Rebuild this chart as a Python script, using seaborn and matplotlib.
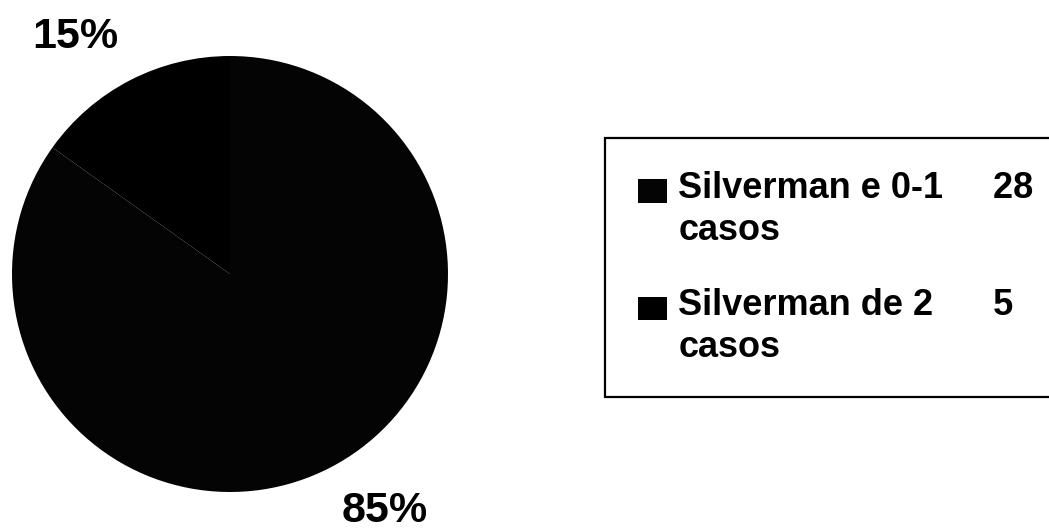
import matplotlib
matplotlib.use("Agg")
import matplotlib.pyplot as plt
import matplotlib.patches as mpatches
from matplotlib.legend_handler import HandlerPatch
import seaborn as sns

# Grupos e número de casos
categories = ["Silverman e 0-1", "Silverman de 2"]
cases = [28, 5]
colors = ["#040404", "#000000"]

sns.set_theme(style="white")
plt.rcParams["font.family"] = ["Liberation Sans", "DejaVu Sans"]

W, H = 1049, 532
fig = plt.figure(figsize=(W / 100, H / 100), dpi=100)
fig.patch.set_facecolor("white")

# Pie occupies a square region on the left
cx, cy, r = 230, 274, 218
ax = fig.add_axes([(cx - r) / W, (H - cy - r) / H, 2 * r / W, 2 * r / H])

total = sum(cases)
pct_labels = [f"{v / total * 100:.0f}%" for v in cases]

wedges, texts = ax.pie(
    cases,
    colors=colors,
    labels=pct_labels,
    labeldistance=1.12,
    startangle=90,
    counterclock=False,
    wedgeprops=dict(linewidth=0),
    textprops=dict(fontsize=31, fontweight="bold", color="black"),
)
ax.set_xlim(-1, 1)
ax.set_ylim(-1, 1)
for t in texts:
    t.set_va("bottom" if t.get_position()[1] > 0 else "top")

# Legend with two-line labels and counts aligned in a column
LEGEND_FS = 26
LINE_SPACING = 1.26
HANDLE_LIFT = 13.5  # points: moves the swatch up beside the first line


def first_line_patch(legend, orig_handle, xdescent, ydescent, width, height, fontsize):
    return mpatches.Rectangle((-xdescent, -ydescent + HANDLE_LIFT), width, height)


gaps = [5, 6]
legend_labels = [
    f"{cat}{' ' * g}{n}\ncasos" for cat, g, n in zip(categories, gaps, cases)
]

leg = fig.legend(
    wedges,
    legend_labels,
    loc="upper left",
    bbox_to_anchor=(605 / W, 1 - 138 / H),
    borderaxespad=0,
    frameon=True,
    fancybox=False,
    edgecolor="black",
    framealpha=1,
    borderpad=0.9,
    handlelength=0.83,
    handleheight=0.62,
    handletextpad=0.3,
    labelspacing=1.12,
    prop=dict(size=LEGEND_FS, weight="bold"),
    handler_map={mpatches.Wedge: HandlerPatch(patch_func=first_line_patch)},
)
leg.get_frame().set_linewidth(1.6)
for t in leg.get_texts():
    t.set_linespacing(LINE_SPACING)
    t.set_color("black")

fig.savefig("out.png", dpi=100, facecolor="white")
